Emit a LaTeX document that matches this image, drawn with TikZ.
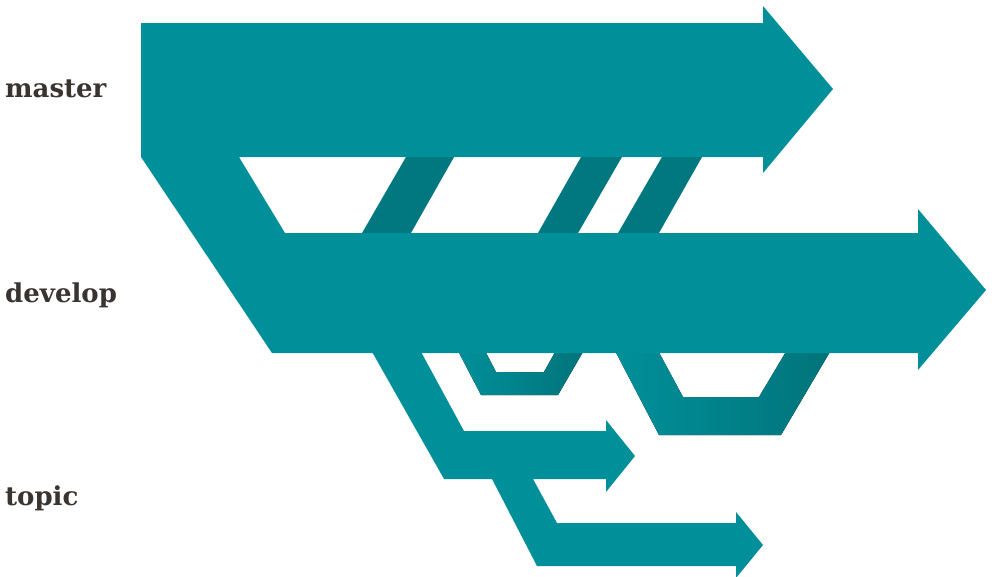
\documentclass[tikz,border=0pt]{standalone}
\usepackage{fontspec}
\setmainfont{DejaVu Serif}
\usepackage{tikz}
\usetikzlibrary{positioning}
\usepackage{xcolor}
\definecolor{gitteal}{HTML}{01909A}
\definecolor{gitdark}{HTML}{017880}
\definecolor{gitdeep}{HTML}{01737A}
\definecolor{gittext}{HTML}{3A3431}

\begin{document}
\begin{tikzpicture}[x=1pt, y=-1pt,
	branch/.style={fill=gitteal},
	merge/.style={fill=gitdark},
	loopback/.style={left color=gitteal, right color=gitdeep},
	label/.style={anchor=base west, inner sep=0pt, text=gittext, font=\bfseries\fontsize{26}{26}\selectfont}]
\useasboundingbox (0,0) rectangle (1000,576);

\fill[merge] (410,150) -- (458,150) -- (407,240) -- (358,240) -- cycle;
\fill[merge] (585,150) -- (626,150) -- (574,240) -- (534,240) -- cycle;
\fill[merge] (666,150) -- (706,150) -- (655,240) -- (614,240) -- cycle;

\fill[loopback] (455,345) -- (481,395) -- (558,395) -- (587,345) -- (559,345) -- (544,372) -- (496,372) -- (482,345) -- cycle;
\fill[loopback] (612,345) -- (659,435) -- (781,435) -- (834,345) -- (790,345) -- (759,397) -- (683,397) -- (655,345) -- cycle;

\fill[branch] (141,23) -- (763,23) -- (763,6) -- (833,89) -- (763,173) -- (763,157) -- (239,157) -- (285,233)
	-- (918,233) -- (918,209) -- (986,290) -- (918,370) -- (918,353) -- (272,353) -- (141,157) -- cycle;

\fill[branch] (371,350) -- (420,350) -- (464,431) -- (606,431) -- (606,420) -- (635,456) -- (606,492) -- (606,479)
	-- (533,479) -- (557,523) -- (736,523) -- (736,512) -- (763,545) -- (736,578) -- (736,566) -- (537,566) -- (492,479) -- (444,479) -- cycle;

\node[label] (master) at (5,97) {master};
\node[label] (develop) at (5,302) {develop};
\node[label] (topic) at (5,505) {topic};
\end{tikzpicture}
\end{document}
